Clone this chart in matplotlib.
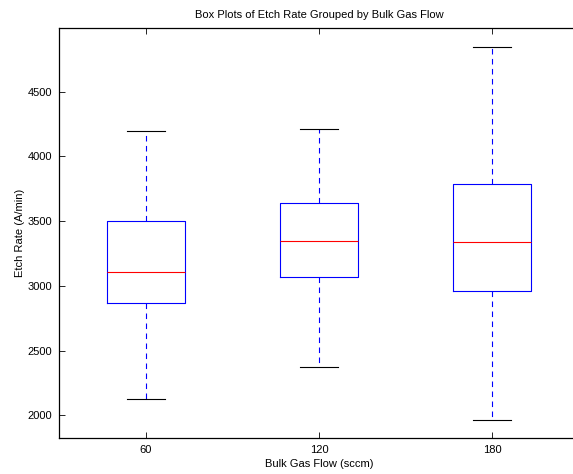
import matplotlib
matplotlib.use("Agg")
import matplotlib.pyplot as plt

plt.rcParams['font.family'] = ['Liberation Sans', 'DejaVu Sans']

categories = ["60", "120", "180"]
whisker_low = [2125, 2375, 1962]
q1 = [2868, 3069, 2962]
median = [3110, 3348, 3339]
q3 = [3502, 3638, 3790]
whisker_high = [4198, 4210, 4845]

stats = []
for i, c in enumerate(categories):
    stats.append(dict(label=c, whislo=whisker_low[i], q1=q1[i], med=median[i],
                      q3=q3[i], whishi=whisker_high[i], fliers=[]))

fig = plt.figure(figsize=(5.73, 4.74), dpi=100)
ax = fig.add_axes([59/573, 36/474, 520/573, 410/474])

ax.bxp(stats, positions=[1, 2, 3], widths=0.45, showfliers=False,
       boxprops=dict(color='#0000ff', linewidth=0.8),
       medianprops=dict(color='#ff0000', linewidth=0.8),
       whiskerprops=dict(color='#0000ff', linewidth=0.8, linestyle=(0, (5, 4))),
       capprops=dict(color='black', linewidth=0.8),
       capwidths=0.22)

ax.set_xlim(0.5, 3.5)
ax.set_ylim(1825, 4992)
ax.set_yticks([2000, 2500, 3000, 3500, 4000, 4500])
ax.set_xticks([1, 2, 3])
ax.set_xticklabels(categories)
ax.tick_params(direction='in', length=4, width=0.6, labelsize=8, top=True, right=True,
               pad=5)
for s in ax.spines.values():
    s.set_linewidth(0.9)

ax.set_title("Box Plots of Etch Rate Grouped by Bulk Gas Flow", fontsize=8, pad=7)
ax.set_xlabel("Bulk Gas Flow (sccm)", fontsize=8, labelpad=3)
ax.set_ylabel("Etch Rate (A/min)", fontsize=8, labelpad=2)

fig.savefig("out.png", dpi=100)
